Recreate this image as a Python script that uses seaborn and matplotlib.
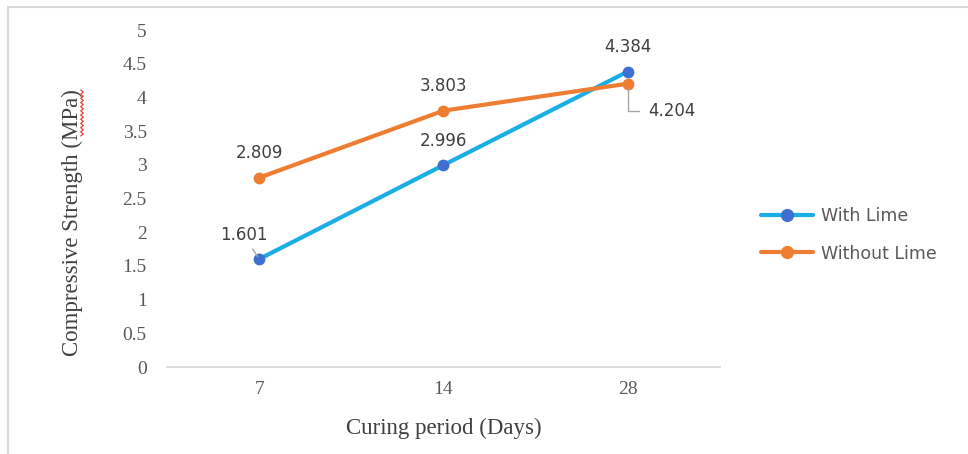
import matplotlib
matplotlib.use("Agg")
import matplotlib.pyplot as plt
from matplotlib.lines import Line2D
import numpy as np
import seaborn as sns
import pandas as pd

# Curing periods (days) and compressive strength (MPa)
days = ["7", "14", "28"]
with_lime = [1.601, 2.996, 4.384]
without_lime = [2.809, 3.803, 4.204]
series_names = ["With Lime", "Without Lime"]
y_ticks = [0, 0.5, 1, 1.5, 2, 2.5, 3, 3.5, 4, 4.5, 5]

df = pd.DataFrame({
    "Days": days * 2,
    "Strength": with_lime + without_lime,
    "Series": [series_names[0]] * len(days) + [series_names[1]] * len(days),
})

line_colors = {"With Lime": "#1aaee6", "Without Lime": "#ee7d31"}
marker_colors = {"With Lime": "#3f6fd0", "Without Lime": "#ee7d31"}

sns.set_theme(style="white")
fig = plt.figure(figsize=(9.68, 4.54), dpi=100)
ax = fig.add_axes([167 / 968, 87 / 454, (720 - 167) / 968, (424 - 87) / 454])

sns.lineplot(data=df, x="Days", y="Strength", hue="Series", palette=line_colors,
             marker="o", markersize=8.5, linewidth=3.0, ax=ax, legend=False,
             markeredgewidth=0, sort=False)

for line, name in zip(ax.get_lines(), series_names):
    line.set_markerfacecolor(marker_colors[name])
    line.set_markeredgecolor(marker_colors[name])

ax.set_xlim(-0.5, 2.5)
ax.set_ylim(0, 5)
ax.set_yticks(y_ticks)
ax.set_yticklabels([f"{t:g}" for t in y_ticks])

serif = "Liberation Serif"
tick_color = "#595959"
for lab in ax.get_xticklabels() + ax.get_yticklabels():
    lab.set_fontfamily(serif)
    lab.set_fontsize(14)
    lab.set_color(tick_color)
ax.tick_params(axis="both", length=0)
ax.tick_params(axis="y", pad=14.5)
ax.tick_params(axis="x", pad=10)

for side in ["left", "right", "top"]:
    ax.spines[side].set_visible(False)
ax.spines["bottom"].set_color("#d9d9d9")
ax.spines["bottom"].set_linewidth(1.3)

ax.set_xlabel("Curing period (Days)", fontfamily=serif, fontsize=16.5,
              color="#404040")
ax.xaxis.set_label_coords(0.5, -0.152)
ax.set_ylabel("Compressive Strength (MPa)", fontfamily=serif, fontsize=16.5,
              color="#404040")
ax.yaxis.set_label_coords(-0.152, 0.43)

# Data labels
label_kw = dict(fontsize=12, color="#404040", fontfamily="DejaVu Sans",
                textcoords="offset points")
leader = dict(arrowstyle="-", color="#a6a6a6", lw=1.0)
for i, v in enumerate(with_lime):
    if i == 0:
        ax.annotate(f"{v:.3f}", (i, v), xytext=(-11, 17), ha="center", va="center",
                    arrowprops=dict(shrinkA=1, shrinkB=2, **leader), **label_kw)
    else:
        ax.annotate(f"{v:.3f}", (i, v), xytext=(0, 17.5), ha="center", va="center",
                    **label_kw)
for i, v in enumerate(without_lime):
    if i == 2:
        ax.annotate(f"{v:.3f}", (i, v), xytext=(14.5, -20), ha="left", va="center",
                    arrowprops=dict(shrinkA=4, shrinkB=4,
                                    connectionstyle="angle,angleA=0,angleB=90,rad=0",
                                    **leader),
                    **label_kw)
    else:
        ax.annotate(f"{v:.3f}", (i, v), xytext=(0, 17.5), ha="center", va="center",
                    **label_kw)

handles = [Line2D([0], [0], color=line_colors[n], lw=3.0, marker="o", markersize=8.5,
                  markerfacecolor=marker_colors[n], markeredgecolor=marker_colors[n])
           for n in series_names]
leg = fig.legend(handles, series_names, loc="center left",
                 bbox_to_anchor=(745 / 968, 1 - 235 / 454), frameon=False,
                 prop={"family": "DejaVu Sans", "size": 12.5}, labelcolor="#595959",
                 handlelength=3.0, labelspacing=1.1, handletextpad=0.45)

# Chart area border (top and left edges)
fig.add_artist(Line2D([7.5 / 968, 7.5 / 968], [0, 1 - 6.5 / 454], color="#d9d9d9",
                      lw=1.5, transform=fig.transFigure))
fig.add_artist(Line2D([7.5 / 968, 1], [1 - 6.5 / 454, 1 - 6.5 / 454], color="#d9d9d9",
                      lw=1.5, transform=fig.transFigure))

# Spell-check squiggle under the unit in the axis title
sy = np.linspace(90, 136, 23)
sx = 82 + np.where(np.arange(sy.size) % 2 == 0, -1.3, 1.3)
fig.add_artist(Line2D(sx / 968, 1 - sy / 454, color="#e8403a", lw=0.9,
                      transform=fig.transFigure))

fig.savefig("out.png", dpi=100, facecolor="white")
